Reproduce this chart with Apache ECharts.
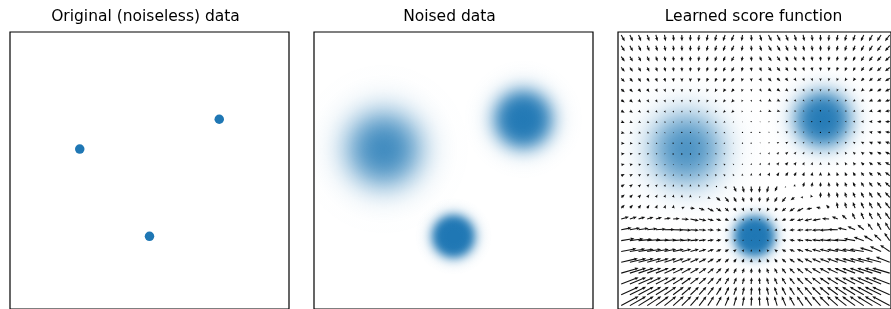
<!DOCTYPE html>
<html>
<head>
<meta charset="utf-8">
<script src="https://cdn.jsdelivr.net/npm/echarts@6/dist/echarts.min.js"></script>
<style>
html, body { margin: 0; padding: 0; background: #fff; }
#main { width: 891px; height: 309px; }
</style>
</head>
<body>
<div id="main"></div>
<script>
// centres of the three clean points
const cleanX = [-1.0, 1.0, 0.0];
const cleanY = [0.31, 0.74, -0.95];
// spread of each noised cloud (axis units)
const noiseStd = [0.315, 0.215, 0.14];

const panelTitles = ['Original (noiseless) data', 'Noised data', 'Learned score function'];

// sample grid of the learned score
const gridX = [-1.953, -1.826, -1.699, -1.572, -1.445, -1.319, -1.192, -1.065, -0.938, -0.811, -0.684, -0.557, -0.430, -0.303, -0.176, -0.049,
  0.078, 0.205, 0.332, 0.458, 0.585, 0.712, 0.839, 0.966, 1.093, 1.220, 1.347, 1.474, 1.601, 1.728, 1.855, 1.981];
const gridY = [1.957, 1.801, 1.644, 1.488, 1.332, 1.176, 1.019, 0.863, 0.707, 0.550, 0.394, 0.238, 0.081, -0.075, -0.231, -0.388,
  -0.544, -0.700, -0.856, -1.013, -1.169, -1.325, -1.482, -1.638, -1.794, -1.951];

// score vectors, one row per gridY value
const scoreU = [
  [3.6, 3.1, 2.6, 2.2, 1.7, 1.2, 0.7, 0.2, -0.3, -0.8, -1.3, -1.7, -2.2, -2.7, -0.9, 0.5, 1.9, 3.2, 3.3, 2.6, 2.0, 1.4, 0.8, 0.2, -0.5, -1.1, -1.7, -2.3, -3.0, -3.6, -4.2, -4.8],
  [3.6, 3.1, 2.6, 2.2, 1.7, 1.2, 0.7, 0.2, -0.3, -0.8, -1.3, -1.7, -2.2, -2.7, -0.9, 0.5, 1.9, 3.2, 3.3, 2.6, 2.0, 1.4, 0.8, 0.2, -0.5, -1.1, -1.7, -2.3, -3.0, -3.6, -4.2, -4.8],
  [3.6, 3.1, 2.6, 2.2, 1.7, 1.2, 0.7, 0.2, -0.3, -0.8, -1.3, -1.7, -2.2, -2.7, -0.9, 0.5, 1.9, 3.2, 3.3, 2.6, 2.0, 1.4, 0.8, 0.2, -0.5, -1.1, -1.7, -2.3, -3.0, -3.6, -4.2, -4.8],
  [3.6, 3.1, 2.6, 2.2, 1.7, 1.2, 0.7, 0.2, -0.3, -0.8, -1.3, -1.7, -2.2, -2.7, -0.9, 0.5, 1.9, 3.2, 3.3, 2.6, 2.0, 1.4, 0.8, 0.2, -0.5, -1.1, -1.7, -2.3, -3.0, -3.6, -4.2, -4.8],
  [3.6, 3.1, 2.6, 2.2, 1.7, 1.2, 0.7, 0.2, -0.3, -0.8, -1.3, -1.7, -2.2, -2.7, -0.9, 0.5, 1.9, 3.2, 3.3, 2.6, 2.0, 1.4, 0.8, 0.2, -0.5, -1.1, -1.7, -2.3, -3.0, -3.6, -4.2, -4.8],
  [3.6, 3.1, 2.6, 2.2, 1.7, 1.2, 0.7, 0.2, -0.3, -0.8, -1.3, -1.7, -2.2, -2.7, -0.9, 0.5, 1.9, 3.2, 3.3, 2.6, 2.0, 1.4, 0.8, 0.2, -0.5, -1.1, -1.7, -2.3, -3.0, -3.6, -4.2, -4.8],
  [3.6, 3.1, 2.6, 2.2, 1.7, 1.2, 0.7, 0.2, -0.3, -0.8, -1.3, -1.7, -2.2, -2.7, -0.9, 0.5, 1.9, 3.2, 3.3, 2.6, 2.0, 1.4, 0.8, 0.2, -0.5, -1.1, -1.7, -2.3, -3.0, -3.6, -4.2, -4.8],
  [3.6, 3.1, 2.6, 2.2, 1.7, 1.2, 0.7, 0.2, -0.3, -0.8, -1.3, -1.7, -2.2, -2.7, -0.9, 0.5, 1.9, 3.2, 3.3, 2.6, 2.0, 1.4, 0.8, 0.2, -0.5, -1.1, -1.7, -2.3, -3.0, -3.6, -4.2, -4.8],
  [3.6, 3.1, 2.6, 2.2, 1.7, 1.2, 0.7, 0.2, -0.3, -0.8, -1.3, -1.7, -1.9, -1.1, -0.4, 0.3, 0.9, 1.5, 2.1, 2.6, 2.0, 1.4, 0.8, 0.2, -0.5, -1.1, -1.7, -2.3, -3.0, -3.6, -4.2, -4.8],
  [3.6, 3.1, 2.6, 2.2, 1.7, 1.2, 0.7, 0.2, -0.3, -0.8, -1.3, -1.7, -1.9, -1.1, -0.4, 0.3, 0.9, 1.5, 2.1, 2.6, 2.0, 1.4, 0.8, 0.2, -0.5, -1.1, -1.7, -2.3, -3.0, -3.6, -4.2, -4.8],
  [3.6, 3.1, 2.6, 2.2, 1.7, 1.2, 0.7, 0.2, -0.3, -0.8, -1.3, -1.7, -1.9, -1.1, -0.4, 0.3, 0.9, 1.5, 2.1, 2.6, 2.0, 1.4, 0.8, 0.2, -0.5, -1.1, -1.7, -2.3, -3.0, -3.6, -4.2, -4.8],
  [3.6, 3.1, 2.6, 2.2, 1.7, 1.2, 0.7, 0.2, -0.3, -0.8, -1.3, -1.7, -1.9, -1.1, -0.4, 0.3, 0.9, 1.5, 2.1, 2.6, 2.0, 1.4, 0.8, 0.2, -0.5, -1.1, -1.7, -2.3, -3.0, -3.6, -4.2, -4.8],
  [3.6, 3.1, 2.6, 2.2, 1.7, 1.2, 0.7, 0.2, -0.3, -0.8, -1.3, -1.7, -1.9, -1.1, -0.4, 0.3, 0.9, 1.5, 2.1, 2.6, 2.0, 1.4, 0.8, 0.2, -0.5, -1.1, -1.7, -2.3, -3.0, -3.6, -4.2, -4.8],
  [3.6, 3.1, 2.6, 2.2, 1.7, 1.2, 0.7, 0.2, -0.3, -0.8, -1.3, -1.7, -1.9, -1.1, -0.4, 0.3, 0.9, 1.5, 2.1, 2.6, 2.0, 1.4, 0.8, 0.2, -0.5, -1.1, -1.7, -2.3, -3.0, -3.6, -4.2, -4.8],
  [3.6, 3.1, 2.6, 2.2, 1.7, 1.2, 0.7, 0.2, -0.3, -0.8, -1.3, -0.2, 1.5, 2.6, 1.7, 0.5, -0.6, -1.8, -2.4, -1.0, 0.6, 1.4, 0.8, 0.2, -0.5, -1.1, -1.7, -2.3, -3.0, -3.6, -4.2, -4.8],
  [3.6, 3.1, 2.6, 2.2, 1.7, 1.2, 0.7, 0.2, -0.3, 1.4, 3.0, 4.2, 4.0, 2.8, 1.7, 0.5, -0.6, -1.8, -2.9, -4.1, -3.9, -2.7, -1.1, 0.2, -0.5, -1.1, -1.7, -2.3, -3.0, -3.6, -4.2, -4.8],
  [3.6, 3.1, 2.6, 2.2, 1.7, 1.2, 0.7, 3.0, 4.6, 5.8, 6.3, 5.1, 4.0, 2.8, 1.7, 0.5, -0.6, -1.8, -2.9, -4.1, -5.2, -6.4, -5.6, -4.5, -3.0, -1.1, -1.7, -2.3, -3.0, -3.6, -4.2, -4.8],
  [7.9, 7.2, 6.9, 6.5, 6.3, 6.6, 6.8, 7.4, 8.6, 7.4, 6.3, 5.1, 4.0, 2.8, 1.7, 0.5, -0.6, -1.8, -2.9, -4.1, -5.2, -6.4, -7.5, -8.3, -7.3, -6.1, -4.7, -3.1, -3.0, -3.6, -4.2, -4.8],
  [10.7, 10.5, 10.3, 10.3, 10.3, 10.4, 10.4, 9.7, 8.6, 7.4, 6.3, 5.1, 4.0, 2.8, 1.7, 0.5, -0.6, -1.8, -2.9, -4.1, -5.2, -6.4, -7.5, -8.7, -9.8, -10.0, -9.0, -7.8, -6.5, -4.9, -4.2, -4.8],
  [13.5, 13.9, 13.9, 13.7, 13.2, 12.0, 10.9, 9.7, 8.6, 7.4, 6.3, 5.1, 4.0, 2.8, 1.7, 0.5, -0.6, -1.8, -2.9, -4.1, -5.2, -6.4, -7.5, -8.7, -9.8, -11.0, -12.1, -11.5, -10.3, -8.9, -7.3, -5.5],
  [15.6, 15.7, 15.5, 14.3, 13.2, 12.0, 10.9, 9.7, 8.6, 7.4, 6.3, 5.1, 4.0, 2.8, 1.7, 0.5, -0.6, -1.8, -2.9, -4.1, -5.2, -6.4, -7.5, -8.7, -9.8, -11.0, -12.1, -13.3, -14.4, -13.0, -11.5, -9.8],
  [17.1, 16.6, 15.5, 14.3, 13.2, 12.0, 10.9, 9.7, 8.6, 7.4, 6.3, 5.1, 4.0, 2.8, 1.7, 0.5, -0.6, -1.8, -2.9, -4.1, -5.2, -6.4, -7.5, -8.7, -9.8, -11.0, -12.1, -13.3, -14.4, -15.6, -15.7, -14.2],
  [17.8, 16.6, 15.5, 14.3, 13.2, 12.0, 10.9, 9.7, 8.6, 7.4, 6.3, 5.1, 4.0, 2.8, 1.7, 0.5, -0.6, -1.8, -2.9, -4.1, -5.2, -6.4, -7.5, -8.7, -9.8, -11.0, -12.1, -13.3, -14.4, -15.6, -16.7, -17.9],
  [17.8, 16.6, 15.5, 14.3, 13.2, 12.0, 10.9, 9.7, 8.6, 7.4, 6.3, 5.1, 4.0, 2.8, 1.7, 0.5, -0.6, -1.8, -2.9, -4.1, -5.2, -6.4, -7.5, -8.7, -9.8, -11.0, -12.1, -13.3, -14.4, -15.6, -16.7, -17.9],
  [17.8, 16.6, 15.5, 14.3, 13.2, 12.0, 10.9, 9.7, 8.6, 7.4, 6.3, 5.1, 4.0, 2.8, 1.7, 0.5, -0.6, -1.8, -2.9, -4.1, -5.2, -6.4, -7.5, -8.7, -9.8, -11.0, -12.1, -13.3, -14.4, -15.6, -16.7, -17.9],
  [17.8, 16.6, 15.5, 14.3, 13.2, 12.0, 10.9, 9.7, 8.6, 7.4, 6.3, 5.1, 4.0, 2.8, 1.7, 0.5, -0.6, -1.8, -2.9, -4.1, -5.2, -6.4, -7.5, -8.7, -9.8, -11.0, -12.1, -13.3, -14.4, -15.6, -16.7, -17.9]
];
const scoreV = [
  [-6.2, -6.2, -6.2, -6.2, -6.2, -6.2, -6.2, -6.2, -6.2, -6.2, -6.2, -6.2, -6.2, -6.2, -6.2, -6.2, -6.2, -6.2, -6.2, -6.2, -6.2, -6.2, -6.2, -6.2, -6.2, -6.2, -6.2, -6.2, -6.2, -6.2, -6.2, -6.2],
  [-5.6, -5.6, -5.6, -5.6, -5.6, -5.6, -5.6, -5.6, -5.6, -5.6, -5.6, -5.6, -5.6, -5.6, -5.5, -5.5, -5.5, -5.4, -5.4, -5.4, -5.4, -5.4, -5.4, -5.4, -5.4, -5.4, -5.4, -5.4, -5.4, -5.4, -5.4, -5.4],
  [-5.0, -5.0, -5.0, -5.0, -5.0, -5.0, -5.0, -5.0, -5.0, -5.0, -5.0, -5.0, -5.0, -5.0, -4.9, -4.8, -4.7, -4.7, -4.6, -4.6, -4.6, -4.6, -4.6, -4.6, -4.6, -4.6, -4.6, -4.6, -4.6, -4.6, -4.6, -4.6],
  [-4.4, -4.4, -4.4, -4.4, -4.4, -4.4, -4.4, -4.4, -4.4, -4.4, -4.4, -4.4, -4.4, -4.4, -4.2, -4.1, -4.0, -3.9, -3.9, -3.9, -3.9, -3.9, -3.9, -3.9, -3.9, -3.9, -3.9, -3.9, -3.9, -3.9, -3.9, -3.9],
  [-3.8, -3.8, -3.8, -3.8, -3.8, -3.8, -3.8, -3.8, -3.8, -3.8, -3.8, -3.8, -3.8, -3.8, -3.6, -3.5, -3.3, -3.2, -3.1, -3.1, -3.1, -3.1, -3.1, -3.1, -3.1, -3.1, -3.1, -3.1, -3.1, -3.1, -3.1, -3.1],
  [-3.2, -3.2, -3.2, -3.2, -3.2, -3.2, -3.2, -3.2, -3.2, -3.2, -3.2, -3.2, -3.2, -3.2, -3.0, -2.8, -2.6, -2.4, -2.4, -2.4, -2.4, -2.4, -2.4, -2.4, -2.4, -2.4, -2.4, -2.4, -2.4, -2.4, -2.4, -2.4],
  [-2.6, -2.6, -2.6, -2.6, -2.6, -2.6, -2.6, -2.6, -2.6, -2.6, -2.6, -2.6, -2.6, -2.6, -2.3, -2.1, -1.9, -1.7, -1.6, -1.6, -1.6, -1.6, -1.6, -1.6, -1.6, -1.6, -1.6, -1.6, -1.6, -1.6, -1.6, -1.6],
  [-2.0, -2.0, -2.0, -2.0, -2.0, -2.0, -2.0, -2.0, -2.0, -2.0, -2.0, -2.0, -2.0, -2.0, -1.7, -1.4, -1.2, -0.9, -0.8, -0.8, -0.8, -0.8, -0.8, -0.8, -0.8, -0.8, -0.8, -0.8, -0.8, -0.8, -0.8, -0.8],
  [-1.4, -1.4, -1.4, -1.4, -1.4, -1.4, -1.4, -1.4, -1.4, -1.4, -1.4, -1.4, -1.3, -1.1, -1.0, -0.8, -0.6, -0.4, -0.2, -0.1, -0.1, -0.1, -0.1, -0.1, -0.1, -0.1, -0.1, -0.1, -0.1, -0.1, -0.1, -0.1],
  [-0.8, -0.8, -0.8, -0.8, -0.8, -0.8, -0.8, -0.8, -0.8, -0.8, -0.8, -0.8, -0.7, -0.5, -0.3, -0.1, 0.1, 0.3, 0.5, 0.7, 0.7, 0.7, 0.7, 0.7, 0.7, 0.7, 0.7, 0.7, 0.7, 0.7, 0.7, 0.7],
  [-0.2, -0.2, -0.2, -0.2, -0.2, -0.2, -0.2, -0.2, -0.2, -0.2, -0.2, -0.2, -0.1, 0.1, 0.3, 0.6, 0.8, 1.0, 1.2, 1.5, 1.5, 1.5, 1.5, 1.5, 1.5, 1.5, 1.5, 1.5, 1.5, 1.5, 1.5, 1.5],
  [0.4, 0.4, 0.4, 0.4, 0.4, 0.4, 0.4, 0.4, 0.4, 0.4, 0.4, 0.4, 0.5, 0.8, 1.0, 1.2, 1.5, 1.7, 2.0, 2.2, 2.2, 2.2, 2.2, 2.2, 2.2, 2.2, 2.2, 2.2, 2.2, 2.2, 2.2, 2.2],
  [1.0, 1.0, 1.0, 1.0, 1.0, 1.0, 1.0, 1.0, 1.0, 1.0, 1.0, 1.0, 1.1, 1.4, 1.6, 1.9, 2.2, 2.4, 2.7, 3.0, 3.0, 3.0, 3.0, 3.0, 3.0, 3.0, 3.0, 3.0, 3.0, 3.0, 3.0, 3.0],
  [1.6, 1.6, 1.6, 1.6, 1.6, 1.6, 1.6, 1.6, 1.6, 1.6, 1.6, 1.6, 1.7, 2.0, 2.3, 2.6, 2.9, 3.2, 3.5, 3.8, 3.8, 3.8, 3.8, 3.8, 3.8, 3.8, 3.8, 3.8, 3.8, 3.8, 3.8, 3.8],
  [2.2, 2.2, 2.2, 2.2, 2.2, 2.2, 2.2, 2.2, 2.2, 2.2, 2.2, 0.3, -2.6, -5.6, -6.2, -6.2, -6.2, -6.2, -5.1, -1.2, 2.5, 4.5, 4.5, 4.5, 4.5, 4.5, 4.5, 4.5, 4.5, 4.5, 4.5, 4.5],
  [2.8, 2.8, 2.8, 2.8, 2.8, 2.8, 2.8, 2.8, 2.8, 0.8, -1.4, -3.7, -4.8, -4.8, -4.8, -4.8, -4.8, -4.8, -4.8, -4.8, -2.9, 0.0, 3.0, 5.3, 5.3, 5.3, 5.3, 5.3, 5.3, 5.3, 5.3, 5.3],
  [3.4, 3.4, 3.4, 3.4, 3.4, 3.4, 3.4, 1.5, -0.3, -2.0, -3.3, -3.3, -3.3, -3.3, -3.3, -3.3, -3.3, -3.3, -3.3, -3.3, -3.3, -3.3, -1.2, 1.2, 3.5, 6.1, 6.1, 6.1, 6.1, 6.1, 6.1, 6.1],
  [2.2, 2.2, 2.1, 1.9, 1.7, 1.1, 0.5, -0.5, -1.9, -1.9, -1.9, -1.9, -1.9, -1.9, -1.9, -1.9, -1.9, -1.9, -1.9, -1.9, -1.9, -1.9, -1.9, -1.5, 0.4, 2.4, 4.3, 6.2, 6.8, 6.8, 6.8, 6.8],
  [2.1, 1.8, 1.6, 1.2, 0.8, 0.3, -0.2, -0.5, -0.5, -0.5, -0.5, -0.5, -0.5, -0.5, -0.5, -0.5, -0.5, -0.5, -0.5, -0.5, -0.5, -0.5, -0.5, -0.5, -0.5, 0.3, 1.9, 3.5, 5.1, 6.7, 7.6, 7.6],
  [2.2, 1.8, 1.4, 1.1, 0.9, 0.9, 0.9, 0.9, 0.9, 0.9, 0.9, 0.9, 0.9, 0.9, 0.9, 0.9, 0.9, 0.9, 0.9, 0.9, 0.9, 0.9, 0.9, 0.9, 0.9, 0.9, 0.9, 2.1, 3.6, 5.1, 6.5, 8.0],
  [2.9, 2.6, 2.3, 2.3, 2.3, 2.3, 2.3, 2.3, 2.3, 2.3, 2.3, 2.3, 2.3, 2.3, 2.3, 2.3, 2.3, 2.3, 2.3, 2.3, 2.3, 2.3, 2.3, 2.3, 2.3, 2.3, 2.3, 2.3, 2.3, 3.8, 5.2, 6.5],
  [3.9, 3.8, 3.8, 3.8, 3.8, 3.8, 3.8, 3.8, 3.8, 3.8, 3.8, 3.8, 3.8, 3.8, 3.8, 3.8, 3.8, 3.8, 3.8, 3.8, 3.8, 3.8, 3.8, 3.8, 3.8, 3.8, 3.8, 3.8, 3.8, 3.8, 4.2, 5.5],
  [5.2, 5.2, 5.2, 5.2, 5.2, 5.2, 5.2, 5.2, 5.2, 5.2, 5.2, 5.2, 5.2, 5.2, 5.2, 5.2, 5.2, 5.2, 5.2, 5.2, 5.2, 5.2, 5.2, 5.2, 5.2, 5.2, 5.2, 5.2, 5.2, 5.2, 5.2, 5.2],
  [6.6, 6.6, 6.6, 6.6, 6.6, 6.6, 6.6, 6.6, 6.6, 6.6, 6.6, 6.6, 6.6, 6.6, 6.6, 6.6, 6.6, 6.6, 6.6, 6.6, 6.6, 6.6, 6.6, 6.6, 6.6, 6.6, 6.6, 6.6, 6.6, 6.6, 6.6, 6.6],
  [8.0, 8.0, 8.0, 8.0, 8.0, 8.0, 8.0, 8.0, 8.0, 8.0, 8.0, 8.0, 8.0, 8.0, 8.0, 8.0, 8.0, 8.0, 8.0, 8.0, 8.0, 8.0, 8.0, 8.0, 8.0, 8.0, 8.0, 8.0, 8.0, 8.0, 8.0, 8.0],
  [9.4, 9.4, 9.4, 9.4, 9.4, 9.4, 9.4, 9.4, 9.4, 9.4, 9.4, 9.4, 9.4, 9.4, 9.4, 9.4, 9.4, 9.4, 9.4, 9.4, 9.4, 9.4, 9.4, 9.4, 9.4, 9.4, 9.4, 9.4, 9.4, 9.4, 9.4, 9.4]
];

// score units per axis unit (like quiver's scale)
const quiverScale = 69.75;
const blue = [31, 119, 180];
// how dense each cloud looks (style only)
const cloudDensity = [1.8, 4, 8];

const panelLeft = [10, 314, 618];
const panelSize = 279;

const myChart = echarts.init(document.getElementById('main'));

const cleanData = cleanX.map(function (x, k) { return [x, cleanY[k]]; });
const cloudData = cleanX.map(function (x, k) { return [x, cleanY[k], noiseStd[k]]; });
const arrowData = [];
gridY.forEach(function (y, i) {
	gridX.forEach(function (x, j) {
		arrowData.push([x, y, scoreU[i][j], scoreV[i][j]]);
	});
});

function cloudRenderer(fade) {
	return function (params, api) {
		const c = api.coord([api.value(0), api.value(1)]);
		const s = api.size([api.value(2), api.value(2)])[0];
		const dens = cloudDensity[params.dataIndex] * fade;
		const ext = 3.9;
		const stops = [];
		for (let t = 0; t <= 1.0001; t += 0.04) {
			const r = t * ext;
			const op = 1 - Math.exp(-dens * Math.exp(-r * r / 2));
			stops.push({ offset: Math.min(t, 1), color: 'rgba(' + blue.join(',') + ',' + op.toFixed(3) + ')' });
		}
		return {
			type: 'circle',
			shape: { cx: c[0], cy: c[1], r: ext * s },
			style: { fill: { type: 'radial', x: 0.5, y: 0.5, r: 0.5, colorStops: stops } }
		};
	};
}

function arrowRenderer(params, api) {
	const x = api.value(0), y = api.value(1), u = api.value(2), v = api.value(3);
	const p0 = api.coord([x, y]);
	const p1 = api.coord([x + u / quiverScale, y + v / quiverScale]);
	const dx = p1[0] - p0[0], dy = p1[1] - p0[1];
	const len = Math.sqrt(dx * dx + dy * dy);
	if (len < 0.9) {
		return { type: 'circle', shape: { cx: p0[0], cy: p0[1], r: 0.65 }, style: { fill: '#000' } };
	}
	const ux = dx / len, uy = dy / len, nx = -uy, ny = ux;
	const sw = 0.55, hw = 1.6, hl = 3.8, hal = 3.3;
	let pts;
	if (len < hl) {
		const k = len / hl;
		pts = [
			[p1[0], p1[1]],
			[p1[0] - ux * hl * k + nx * hw * k, p1[1] - uy * hl * k + ny * hw * k],
			[p1[0] - ux * hal * k, p1[1] - uy * hal * k],
			[p1[0] - ux * hl * k - nx * hw * k, p1[1] - uy * hl * k - ny * hw * k]
		];
	} else {
		pts = [
			[p0[0] + nx * sw, p0[1] + ny * sw],
			[p1[0] - ux * hal + nx * sw, p1[1] - uy * hal + ny * sw],
			[p1[0] - ux * hl + nx * hw, p1[1] - uy * hl + ny * hw],
			[p1[0], p1[1]],
			[p1[0] - ux * hl - nx * hw, p1[1] - uy * hl - ny * hw],
			[p1[0] - ux * hal - nx * sw, p1[1] - uy * hal - ny * sw],
			[p0[0] - nx * sw, p0[1] - ny * sw]
		];
	}
	return { type: 'polygon', shape: { points: pts }, style: { fill: '#111' } };
}

const axisBase = { min: -2, max: 2, show: false, splitLine: { show: false } };

option = {
	animation: false,
	title: panelTitles.map(function (t, k) {
		return {
			text: t,
			left: panelLeft[k] + panelSize / 2 - 4,
			top: 9,
			textAlign: 'center',
			textVerticalAlign: 'top',
			padding: 0,
			textStyle: { fontFamily: 'DejaVu Sans', fontSize: 15.5, fontWeight: 'normal', color: '#000' }
		};
	}),
	grid: panelLeft.map(function (l) {
		return { left: l, top: 32, width: panelSize, height: panelSize, show: true, borderColor: '#000', borderWidth: 1.2, containLabel: false };
	}),
	xAxis: [0, 1, 2].map(function (k) { return Object.assign({ type: 'value', gridIndex: k }, axisBase); }),
	yAxis: [0, 1, 2].map(function (k) { return Object.assign({ type: 'value', gridIndex: k }, axisBase); }),
	series: [
		{
			name: 'clean',
			type: 'scatter',
			xAxisIndex: 0,
			yAxisIndex: 0,
			symbolSize: 9.5,
			itemStyle: { color: '#1f77b4', opacity: 1 },
			data: cleanData
		},
		{
			name: 'noised',
			type: 'custom',
			xAxisIndex: 1,
			yAxisIndex: 1,
			clip: true,
			renderItem: cloudRenderer(1),
			data: cloudData
		},
		{
			name: 'noised behind score',
			type: 'custom',
			xAxisIndex: 2,
			yAxisIndex: 2,
			clip: true,
			renderItem: cloudRenderer(0.85),
			data: cloudData
		},
		{
			name: 'score',
			type: 'custom',
			xAxisIndex: 2,
			yAxisIndex: 2,
			clip: true,
			renderItem: arrowRenderer,
			data: arrowData
		}
	]
};

myChart.setOption(option);
</script>
</body>
</html>
